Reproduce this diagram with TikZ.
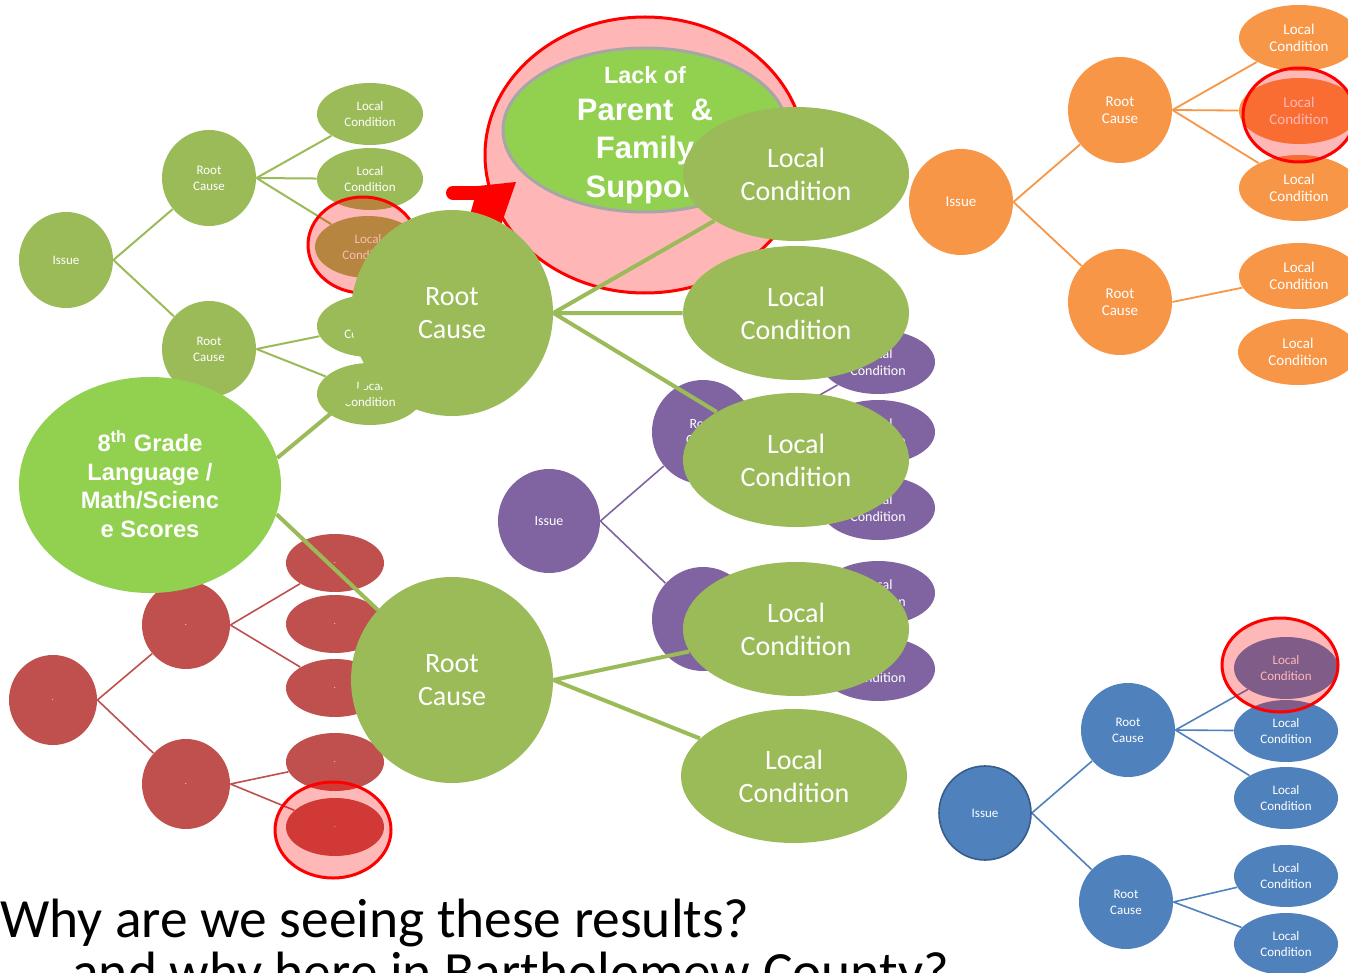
\documentclass[tikz,border=0pt]{standalone}
\usepackage{fontspec}
\setmainfont{Carlito}
\newfontfamily\arialfont{Liberation Sans}
\usetikzlibrary{shapes.geometric}
\definecolor{gtree}{HTML}{9BBB59}
\definecolor{gbright}{HTML}{92D050}
\definecolor{ptree}{HTML}{8064A2}
\definecolor{rtree}{HTML}{C0504D}
\definecolor{otree}{HTML}{F79646}
\definecolor{btree}{HTML}{4F81BD}
\definecolor{bborder}{HTML}{385D8A}
\definecolor{hlpink}{HTML}{FFB6B6}
\definecolor{hlred}{HTML}{FF0000}
\pgfdeclarelayer{bg}
\pgfdeclarelayer{smlines}
\pgfdeclarelayer{smnodes}
\pgfdeclarelayer{smhl}
\pgfdeclarelayer{lack}
\pgfdeclarelayer{arrowl}
\pgfdeclarelayer{biglines}
\pgfdeclarelayer{bignodes}
\pgfsetlayers{bg,smlines,smnodes,smhl,lack,arrowl,biglines,bignodes,main}
\tikzset{
  bub/.style={ellipse, inner sep=0pt, text=white, align=center},
  sz/.style 2 args={minimum width=#1pt, minimum height=#2pt},
  fa/.style={font=\fontsize{6.5}{8}\selectfont},
  fb/.style={font=\fontsize{7}{8.3}\selectfont},
  fc/.style={font=\fontsize{7.5}{8.5}\selectfont},
  fd/.style={font=\fontsize{14}{16.5}\selectfont},
  fdot/.style={font=\fontsize{4}{5}\selectfont},
  gl/.style={draw=gtree, line width=1pt},
  pl/.style={draw=ptree, line width=0.8pt},
  rl/.style={draw=rtree, line width=0.8pt},
  ol/.style={draw=otree, line width=0.9pt},
  bl/.style={draw=btree, line width=0.8pt},
  bigl/.style={draw=gtree, line width=2pt},
  hl/.style={ellipse, inner sep=0pt, fill=hlred, fill opacity=0.28, draw=hlred, draw opacity=1, line width=1.5pt},
  hlsolid/.style={ellipse, inner sep=0pt, fill=hlpink, draw=hlred, line width=1.5pt},
  lacktxt/.style={anchor=base, inner sep=0pt, text=white},
  g8txt/.style={anchor=base, inner sep=0pt, text=white, font=\arialfont\bfseries\fontsize{11.85}{14}\selectfont},
}
\begin{document}
\begin{tikzpicture}[x=0.5pt,y=-0.5pt]
\useasboundingbox (0,0) rectangle (1348,973);
\begin{pgfonlayer}{bg}
\fill[white] (0,0) rectangle (1348,973);
\end{pgfonlayer}

% ---------- small trees: nodes ----------
\begin{pgfonlayer}{smnodes}
% green
\node[bub, fill=gtree, sz={47}{48}, fa] (gi) at (66,260) {Issue};
\node[bub, fill=gtree, sz={47}{48}, fa] (gr1) at (209,178) {Root\\Cause};
\node[bub, fill=gtree, sz={47}{48}, fa] (gr2) at (209,349) {Root\\Cause};
\node[bub, fill=gtree, sz={53}{31}, fa] (gl1) at (370,114) {Local\\Condition};
\node[bub, fill=gtree, sz={53}{31}, fa] (gl2) at (370,179) {Local\\Condition};
\node[bub, fill=gtree, sz={53}{31}, fa] (gl3) at (368,247) {Local\\Condition};
\node[bub, fill=gtree, sz={53}{31}, fa] (gl4) at (370,326) {Local\\Condition};
\node[bub, fill=gtree, sz={53}{31}, fa] (gl5) at (370,394) {Local\\Condition};
% purple
\node[bub, fill=ptree, sz={51}{52}, fb] (pi) at (549,521) {Issue};
\node[bub, fill=ptree, sz={51}{52}, fb] (pr1) at (703,432) {Root\\Cause};
\node[bub, fill=ptree, sz={51}{52}, fb] (pr2) at (703,619) {Root\\Cause};
\node[bub, fill=ptree, sz={57}{32}, fb] (pl1) at (878,362) {Local\\Condition};
\node[bub, fill=ptree, sz={57}{32}, fb] (pl2) at (878,432) {Local\\Condition};
\node[bub, fill=ptree, sz={57}{32}, fb] (pl3) at (878,508) {Local\\Condition};
\node[bub, fill=ptree, sz={57}{32}, fb] (pl4) at (878,593) {Local\\Condition};
\node[bub, fill=ptree, sz={57}{32}, fb] (pl5) at (878,669) {Local\\Condition};
% red
\node[bub, fill=rtree, sz={44}{45}, fdot] (ri) at (53,700) {.};
\node[bub, fill=rtree, sz={44}{44}, fdot] (rr1) at (186,625) {.};
\node[bub, fill=rtree, sz={44}{45}, fdot] (rr2) at (186,784) {.};
\node[bub, fill=rtree, sz={49}{29}, fdot] (rl1) at (335,563) {.};
\node[bub, fill=rtree, sz={49}{29}, fdot] (rl2) at (335,624) {.};
\node[bub, fill=rtree, sz={49}{29}, fdot] (rl3) at (335,688) {.};
\node[bub, fill=rtree, sz={49}{29}, fdot] (rl4) at (335,762) {.};
\node[bub, fill=rtree, sz={49}{29}, fdot] (rl5) at (335,827) {.};
% orange
\node[bub, fill=otree, sz={52}{53}, fc] (oi) at (961,202) {Issue};
\node[bub, fill=otree, sz={52}{53}, fc] (or1) at (1120,110) {Root\\Cause};
\node[bub, fill=otree, sz={52}{53}, fc] (or2) at (1120,302) {Root\\Cause};
\node[bub, fill=otree, sz={60}{33}, fc] (ol1) at (1299,38) {Local\\Condition};
\node[bub, fill=otree, sz={60}{33}, fc] (ol2) at (1299,111) {Local\\Condition};
\node[bub, fill=otree, sz={60}{33}, fc] (ol3) at (1299,188) {Local\\Condition};
\node[bub, fill=otree, sz={60}{33}, fc] (ol4) at (1299,276) {Local\\Condition};
\node[bub, fill=otree, sz={60}{33}, fc] (ol5) at (1298,352) {Local\\Condition};
% blue
\node[bub, fill=btree, draw=bborder, line width=0.8pt, sz={46}{47}, fa] (bi) at (985,813) {Issue};
\node[bub, fill=btree, sz={47}{47}, fa] (br1) at (1128,730) {Root\\Cause};
\node[bub, fill=btree, sz={47}{47}, fa] (br2) at (1126,902) {Root\\Cause};
\node[bub, fill=btree, sz={52}{31}, fa] (bl1) at (1286,668) {Local\\Condition};
\node[bub, fill=btree, sz={52}{31}, fa] (bl2) at (1286,731) {Local\\Condition};
\node[bub, fill=btree, sz={52}{31}, fa] (bl3) at (1286,798) {Local\\Condition};
\node[bub, fill=btree, sz={52}{31}, fa] (bl4) at (1286,876) {Local\\Condition};
\node[bub, fill=btree, sz={52}{31}, fa] (bl5) at (1286,944) {Local\\Condition};
\end{pgfonlayer}

% ---------- small trees: connectors ----------
\begin{pgfonlayer}{smlines}
\draw[gl] (gi.east) -- (gr1) (gi.east) -- (gr2)
  (gr1.east) -- (gl1) (gr1.east) -- (gl2) (gr1.east) -- (gl3)
  (gr2.east) -- (gl4) (gr2.east) -- (gl5);
\draw[pl] (pi.east) -- (pr1) (pi.east) -- (pr2)
  (pr1.east) -- (pl1) (pr1.east) -- (pl2) (pr1.east) -- (pl3)
  (pr2.east) -- (pl4) (pr2.east) -- (pl5);
\draw[rl] (ri.east) -- (rr1) (ri.east) -- (rr2)
  (rr1.east) -- (rl1) (rr1.east) -- (rl3)
  (rr2.east) -- (rl4) (rr2.east) -- (rl5);
\draw[ol] (oi.east) -- (or1) (oi.east) -- (or2)
  (or1.east) -- (ol1) (or1.east) -- (ol2) (or1.east) -- (ol3)
  (or2.east) -- (ol4);
\draw[bl] (bi.east) -- (br1) (bi.east) -- (br2)
  (br1.east) -- (bl1) (br1.east) -- (bl2) (br1.east) -- (bl3)
  (br2.east) -- (bl4) (br2.east) -- (bl5);
\end{pgfonlayer}

% ---------- highlights ----------
\begin{pgfonlayer}{smhl}
\node[hl, sz={55}{48}] (hg) at (363,245) {};
\node[hl, sz={58}{48}] (hr) at (333,830) {};
\node[hl, sz={56}{47}] (ho) at (1299,115) {};
\node[hl, sz={58}{47}] (hb) at (1280,665) {};
\end{pgfonlayer}

% ---------- Lack of Parent & Family Support ----------
\begin{pgfonlayer}{lack}
\node[hlsolid, sz={160}{138}] (lackhl) at (645,155) {};
\node[ellipse, inner sep=0pt, fill=gbright, draw=black!35, line width=1.5pt, sz={142}{82}] (lackin) at (645,130) {};
\node[lacktxt, font=\arialfont\bfseries\fontsize{11.7}{14}\selectfont] (lt1) at (645,84) {Lack of};
\node[lacktxt, font=\arialfont\bfseries\fontsize{15.5}{18}\selectfont] (lt2) at (645,121) {Parent~~\&};
\node[lacktxt, font=\arialfont\bfseries\fontsize{15.5}{18}\selectfont] (lt3) at (645,159) {Family};
\node[lacktxt, font=\arialfont\bfseries\fontsize{15.5}{18}\selectfont] (lt4) at (645,198) {Support};
\end{pgfonlayer}

% ---------- red arrow ----------
\begin{pgfonlayer}{arrowl}
\coordinate (atail) at (453,193);
\coordinate (ajoin) at (492,193);
\coordinate (atip) at (516,182);
\draw[hlred, line width=7pt, line cap=round] (atail) -- (ajoin);
\fill[hlred] (478,186) -- (atip) -- (500,228) -- (470,215) -- cycle;
\end{pgfonlayer}

% ---------- big nodes ----------
\begin{pgfonlayer}{bignodes}
\node[ellipse, inner sep=0pt, fill=gbright, sz={131}{108}] (g8) at (150,485) {};
\node[g8txt] (g8a) at (150,451) {8\textsuperscript{th} Grade};
\node[g8txt] (g8b) at (150,480) {Language /};
\node[g8txt] (g8c) at (150,508) {Math/Scienc};
\node[g8txt] (g8d) at (150,537) {e Scores};
\node[bub, fill=gtree, sz={101}{103}, fd] (grc1) at (452,313) {Root\\Cause};
\node[bub, fill=gtree, sz={101}{103}, fd] (grc2) at (452,680) {Root\\Cause};
\node[bub, fill=gtree, sz={113}{67}, fd] (gla) at (796,174) {Local\\Condition};
\node[bub, fill=gtree, sz={113}{67}, fd] (glb) at (796,313) {Local\\Condition};
\node[bub, fill=gtree, sz={113}{67}, fd] (glc) at (796,460) {Local\\Condition};
\node[bub, fill=gtree, sz={113}{67}, fd] (gld) at (796,629) {Local\\Condition};
\node[bub, fill=gtree, sz={113}{67}, fd] (gle) at (794,776) {Local\\Condition};
\end{pgfonlayer}

\begin{pgfonlayer}{biglines}
\draw[bigl] (g8.12) -- (grc1) (g8.-13) -- (grc2)
  (grc1.east) -- (gla) (grc1.east) -- (glb) (grc1.east) -- (glc)
  (grc2.east) -- (gld) (grc2.east) -- (gle);
\end{pgfonlayer}

% ---------- question ----------
\node[anchor=base west, inner sep=0pt, font=\fontsize{27.7}{33}\selectfont] (q1) at (0,937) {Why are we seeing these results?};
\node[anchor=base west, inner sep=0pt, font=\fontsize{27.7}{33}\selectfont] (q2) at (72,990) {and why here in Bartholomew County?};
\end{tikzpicture}
\end{document}
